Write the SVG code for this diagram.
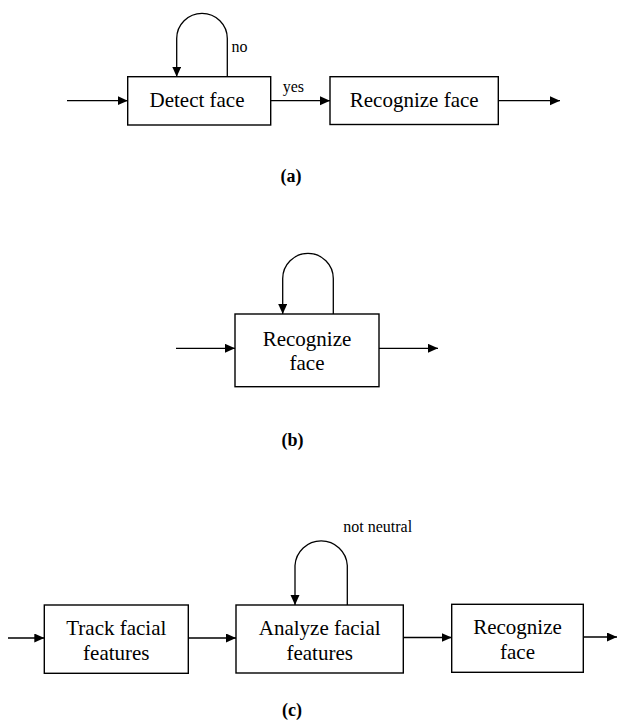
<svg xmlns="http://www.w3.org/2000/svg" width="618" height="722" viewBox="0 0 618 722">
<style>
.box{fill:#fff;stroke:#000;stroke-width:1.4}
.ln{fill:none;stroke:#000;stroke-width:1.3}
text{font-family:"Liberation Serif","Times New Roman",serif;fill:#000}
.t{font-size:21px;text-anchor:middle}
.s{font-size:16px}
.cap{font-size:18px;font-weight:bold;text-anchor:middle}
</style>
<defs>
<marker id="ah" markerUnits="userSpaceOnUse" markerWidth="11" markerHeight="10" refX="10" refY="4.5" orient="auto">
<path d="M0,0 L10,4.5 L0,9 z" fill="#000"/>
</marker>
</defs>
<rect width="618" height="722" fill="#fff"/>
<g id="connectors">
<path class="ln" marker-end="url(#ah)" d="M67,100.7 L127.7,100.7"/>
<path class="ln" marker-end="url(#ah)" d="M270.7,100.7 L330,100.7"/>
<path class="ln" marker-end="url(#ah)" d="M498.3,100.7 L560,100.7"/>
<path class="ln" marker-end="url(#ah)" d="M227.3,76.7 L227.3,38.5 A25.3,25.2 0 0 0 176.7,38.5 L176.7,76.7"/>
<path class="ln" marker-end="url(#ah)" d="M176,348.3 L235,348.3"/>
<path class="ln" marker-end="url(#ah)" d="M379,348.3 L438,348.3"/>
<path class="ln" marker-end="url(#ah)" d="M333.3,314 L333.3,278.6 A25.3,25.3 0 0 0 282.7,278.6 L282.7,314"/>
<path class="ln" marker-end="url(#ah)" d="M8,638 L44.3,638"/>
<path class="ln" marker-end="url(#ah)" d="M188.3,638 L236,638"/>
<path class="ln" marker-end="url(#ah)" d="M403.3,637.5 L451.7,637.5"/>
<path class="ln" marker-end="url(#ah)" d="M583.3,637 L617,637"/>
<path class="ln" marker-end="url(#ah)" d="M347.3,605 L347.3,565.5 A26.2,26.2 0 0 0 295,565.5 L295,605"/>
<text class="s" x="231.5" y="51.7" font-family="Liberation Serif, serif">no</text>
<text class="s" x="282.7" y="91.7" font-family="Liberation Serif, serif">yes</text>
<text class="s" x="343.3" y="531.7" font-family="Liberation Serif, serif">not neutral</text>
</g>
<g id="detect">
<rect class="box" x="127.7" y="76.7" width="143" height="48.3"/>
<text class="t" x="197" y="106.7" font-family="Liberation Serif, serif">Detect face</text>
</g>
<g id="recognize-a">
<rect class="box" x="330" y="76.7" width="168.3" height="47.8"/>
<text class="t" x="414.2" y="106.7" font-family="Liberation Serif, serif">Recognize face</text>
</g>
<g id="recognize-b">
<rect class="box" x="235" y="314" width="144" height="72.7"/>
<text class="t" x="307" y="345.5" font-family="Liberation Serif, serif">Recognize</text>
<text class="t" x="307" y="369.5" font-family="Liberation Serif, serif">face</text>
</g>
<g id="track">
<rect class="box" x="44.3" y="605" width="144" height="68.3"/>
<text class="t" x="116.3" y="635" font-family="Liberation Serif, serif">Track facial</text>
<text class="t" x="116.3" y="660" font-family="Liberation Serif, serif">features</text>
</g>
<g id="analyze">
<rect class="box" x="236" y="605" width="167.3" height="68"/>
<text class="t" x="319.7" y="635" font-family="Liberation Serif, serif">Analyze facial</text>
<text class="t" x="319.7" y="660" font-family="Liberation Serif, serif">features</text>
</g>
<g id="recognize-c">
<rect class="box" x="451.7" y="604.3" width="131.6" height="68"/>
<text class="t" x="517.5" y="634.3" font-family="Liberation Serif, serif">Recognize</text>
<text class="t" x="517.5" y="659.3" font-family="Liberation Serif, serif">face</text>
</g>
<g id="captions">
<text class="cap" x="291" y="181.7" font-family="Liberation Serif, serif">(a)</text>
<text class="cap" x="292.5" y="446" font-family="Liberation Serif, serif">(b)</text>
<text class="cap" x="292" y="716" font-family="Liberation Serif, serif">(c)</text>
</g>
</svg>
